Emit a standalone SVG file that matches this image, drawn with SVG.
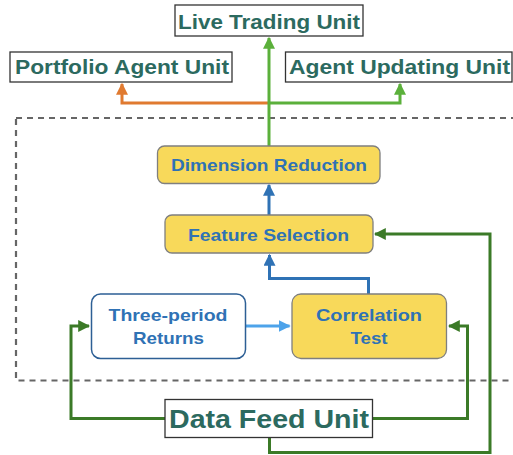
<svg xmlns="http://www.w3.org/2000/svg" width="513" height="455" viewBox="0 0 513 455">
<defs>
<style>
.unit{fill:#fff;stroke:#333;stroke-width:1.3}
.utxt{font-family:"Liberation Sans",Arial,sans-serif;font-weight:bold;fill:#2c6a5f;text-anchor:middle}
.proc{fill:#f8d95a;stroke:#7f7f7f;stroke-width:1.3}
.ptxt{font-family:"Liberation Sans",Arial,sans-serif;font-weight:bold;fill:#2f72b5;font-size:17px;text-anchor:middle}
.ln{fill:none;stroke-width:3}
</style>
<marker id="aLG" viewBox="0 0 10 10" refX="9" refY="5" markerWidth="4" markerHeight="4" orient="auto"><path d="M0,0 L10,5 L0,10 z" fill="#5bb03b"/></marker>
<marker id="aOR" viewBox="0 0 10 10" refX="9" refY="5" markerWidth="4" markerHeight="4" orient="auto"><path d="M0,0 L10,5 L0,10 z" fill="#e07a30"/></marker>
<marker id="aBL" viewBox="0 0 10 10" refX="9" refY="5" markerWidth="4" markerHeight="4" orient="auto"><path d="M0,0 L10,5 L0,10 z" fill="#2f72b5"/></marker>
<marker id="aLB" viewBox="0 0 10 10" refX="9" refY="5" markerWidth="4" markerHeight="4" orient="auto"><path d="M0,0 L10,5 L0,10 z" fill="#4da3ea"/></marker>
<marker id="aDG" viewBox="0 0 10 10" refX="9" refY="5" markerWidth="4" markerHeight="4" orient="auto"><path d="M0,0 L10,5 L0,10 z" fill="#3b7a27"/></marker>
</defs>
<rect x="16" y="118" width="500" height="262.5" fill="none" stroke="#666" stroke-width="2.2" stroke-dasharray="6,5"/>
<g id="connectors">
<path class="ln" d="M269,103 H122 V84" stroke="#e07a30" marker-end="url(#aOR)"/>
<path class="ln" d="M269,103 H400 V84" stroke="#5bb03b" marker-end="url(#aLG)"/>
<path class="ln" d="M269,146 V38" stroke="#5bb03b" marker-end="url(#aLG)"/>
<path class="ln" d="M269,215 V185" stroke="#2f72b5" marker-end="url(#aBL)"/>
<path class="ln" d="M368.5,294 V278.5 H269.5 V255" stroke="#2f72b5" marker-end="url(#aBL)"/>
<path class="ln" d="M246,326 H289.5" stroke="#4da3ea" marker-end="url(#aLB)"/>
<path class="ln" d="M165,418.5 H71 V326 H89" stroke="#3b7a27" marker-end="url(#aDG)"/>
<path class="ln" d="M372,418.5 H467.5 V326 H449" stroke="#3b7a27" marker-end="url(#aDG)"/>
<path class="ln" d="M269.5,438 V452.5 H490 V234 H375" stroke="#3b7a27" marker-end="url(#aDG)"/>
</g>
<g id="live-trading-unit">
<rect class="unit" x="175" y="5" width="188" height="31"/>
<text class="utxt" x="269" y="29" font-size="21" textLength="182" lengthAdjust="spacingAndGlyphs">Live Trading Unit</text>
</g>
<g id="portfolio-agent-unit">
<rect class="unit" x="10" y="52" width="222" height="30"/>
<text class="utxt" x="122" y="74" font-size="21" textLength="214" lengthAdjust="spacingAndGlyphs">Portfolio Agent Unit</text>
</g>
<g id="agent-updating-unit">
<rect class="unit" x="285.5" y="52" width="226.5" height="30"/>
<text class="utxt" x="399.5" y="74" font-size="21" textLength="221" lengthAdjust="spacingAndGlyphs">Agent Updating Unit</text>
</g>
<g id="dimension-reduction">
<rect class="proc" x="157.5" y="146" width="222.5" height="37.5" rx="7"/>
<text class="ptxt" x="269" y="171" textLength="196" lengthAdjust="spacingAndGlyphs">Dimension Reduction</text>
</g>
<g id="feature-selection">
<rect class="proc" x="165" y="215" width="208" height="38" rx="7"/>
<text class="ptxt" x="268.5" y="240.5" textLength="161" lengthAdjust="spacingAndGlyphs">Feature Selection</text>
</g>
<g id="three-period-returns">
<rect x="91.5" y="294" width="154" height="64.5" rx="9" fill="#fff" stroke="#2d5f95" stroke-width="1.5"/>
<text class="ptxt" x="168" y="321" textLength="119" lengthAdjust="spacingAndGlyphs">Three-period</text>
<text class="ptxt" x="168.5" y="344" textLength="71" lengthAdjust="spacingAndGlyphs">Returns</text>
</g>
<g id="correlation-test">
<rect class="proc" x="292" y="294" width="154.5" height="64.5" rx="9"/>
<text class="ptxt" x="369" y="321" textLength="106" lengthAdjust="spacingAndGlyphs">Correlation</text>
<text class="ptxt" x="369" y="344" textLength="37" lengthAdjust="spacingAndGlyphs">Test</text>
</g>
<g id="data-feed-unit">
<rect class="unit" x="165" y="399.5" width="207.5" height="38"/>
<text class="utxt" x="269" y="427.5" font-size="26" textLength="200" lengthAdjust="spacingAndGlyphs">Data Feed Unit</text>
</g>
</svg>
